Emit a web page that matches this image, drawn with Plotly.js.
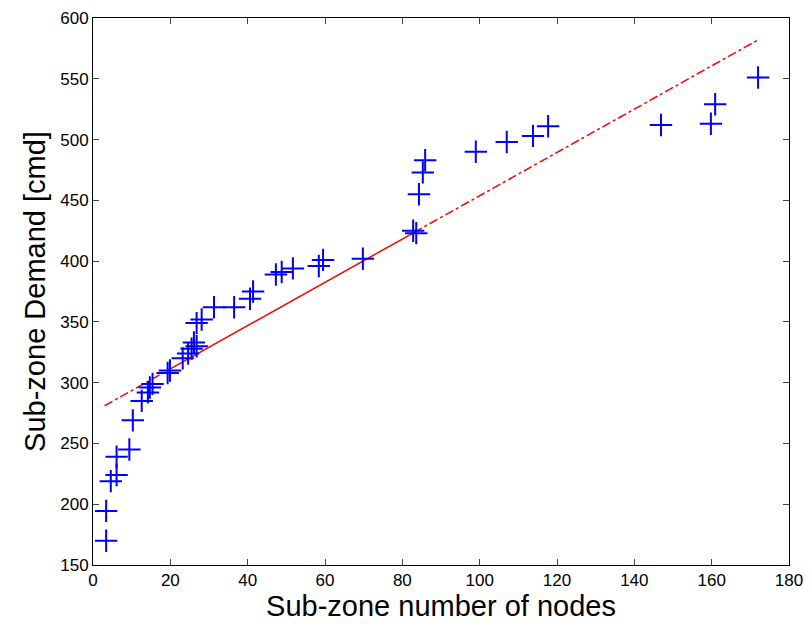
<!DOCTYPE html><html><head><script src="https://cdn.plot.ly/plotly-3.0.1.min.js"></script></head><body style="margin:0;background:#fff"><div id="c" style="width:812px;height:637px"></div><script>
const nodes=[3.4,3.4,4.6,6.1,6.1,9.4,10.3,12.6,14.2,14.7,15.4,19.3,19.9,23.2,24.6,25.5,26.8,26.1,26.8,28.1,31.3,36.5,40.6,41.4,47.3,48.8,51.7,58.4,59.5,69.8,82.8,83.6,84.3,85.3,85.9,99,107,113.8,117.7,146.9,159.8,160.9,172];
const demand=[170,194.5,219,224,239,245,269,285,292,296,299,308,310,320,324,328,330,333,349,352,362,362,369,375,389,391,394,396,401,402,425,423,455,473,483,490,498,503,511,512,513,529,551];
const fitLeftX=[3,20], fitLeftY=[281,311.3];
const fitMidX=[20,83], fitMidY=[311.3,423.5];
const fitRightX=[83,172], fitRightY=[423.5,582];
const red='#ff0000';
const traces=[
 {x:fitLeftX,y:fitLeftY,mode:'lines',line:{color:red,width:1.5,dash:'dashdot'}},
 {x:fitMidX,y:fitMidY,mode:'lines',line:{color:red,width:1.5}},
 {x:fitRightX,y:fitRightY,mode:'lines',line:{color:red,width:1.5,dash:'dashdot'}},
 {x:nodes,y:demand,mode:'markers',marker:{symbol:'cross-thin',size:16,line:{color:'#0000ff',width:2}}}
];
const ax={showgrid:false,zeroline:false,showline:true,mirror:'ticks',linecolor:'#000',linewidth:1,ticks:'inside',ticklen:6,tickfont:{size:17,color:'#000'}};
Plotly.newPlot('c',traces,{
 width:812,height:637,showlegend:false,paper_bgcolor:'#fff',plot_bgcolor:'#fff',
 font:{family:'Liberation Sans, Arial, sans-serif',color:'#000'},
 margin:{l:93,r:23,t:18,b:72},
 xaxis:Object.assign({},ax,{range:[0,180],dtick:20,title:{text:'Sub-zone number of nodes',font:{size:29},standoff:4}}),
 yaxis:Object.assign({},ax,{range:[150,600],dtick:50,title:{text:'Sub-zone Demand [cmd]',font:{size:29},standoff:6}})
},{staticPlot:true});
</script></body></html>
